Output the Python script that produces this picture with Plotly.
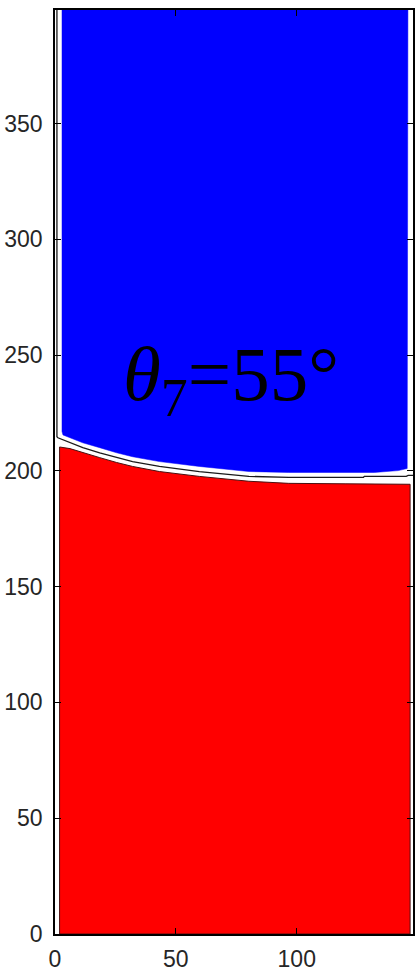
import plotly.graph_objects as go

# ---- data ----
# lower boundary of the blue phase (upper fluid)
blue_bottom_x = [2.9, 3.3, 11.5, 18.5, 25.5, 32.1, 43.2, 59.7, 80.2, 96.7, 115.0, 132.1, 142.0, 145.7]
blue_bottom_y = [217.0, 215.5, 212.1, 210.0, 207.8, 206.1, 204.0, 201.9, 199.7, 199.3, 199.3, 199.3, 200.1, 201.0]
blue_x_range = [2.9, 146.0]
blue_top = 399.0

# upper boundary of the red phase (lower fluid)
red_top_x = [1.9, 6.2, 11.5, 18.5, 25.5, 32.1, 43.2, 59.7, 80.2, 96.7, 120.0, 146.9]
red_top_y = [210.3, 209.6, 207.8, 205.7, 203.6, 201.9, 199.7, 197.6, 195.5, 194.6, 194.4, 194.2]
red_bottom = 0.0

# interface contour (dark line in the white band)
iface_x = [0.8, 0.8, 1.2, 6.2, 11.5, 18.5, 25.5, 32.1, 43.2, 59.7, 80.2, 96.7, 127.6, 128.0, 145.3, 146.1, 149.0]
iface_y = [399.0, 214.7, 214.3, 212.2, 210.0, 207.8, 205.7, 204.0, 201.9, 199.7, 197.6, 197.2, 197.2, 197.6, 197.6, 198.0, 198.0]

x_ticks = [0, 50, 100]
y_ticks = [0, 50, 100, 150, 200, 250, 300, 350]
x_range = [0, 148.1]
y_range = [0, 399]

label_text = "<i>θ</i><sub>7</sub>=55°"
label_pos = (73.0, 239.5)

# ---- build polygons from the boundary arrays ----
blue_poly_x = [blue_x_range[0]] + blue_bottom_x + [blue_x_range[1], blue_x_range[0], blue_x_range[0]]
blue_poly_y = [blue_top] + blue_bottom_y + [blue_top, blue_top, blue_top]

red_poly_x = [red_top_x[0]] + red_top_x + [red_top_x[-1], red_top_x[0]]
red_poly_y = [red_bottom] + red_top_y + [red_bottom, red_bottom]

fig = go.Figure()
fig.add_trace(go.Scatter(x=red_poly_x, y=red_poly_y, fill="toself", fillcolor="#ff0000",
                         mode="lines", line=dict(color="#4a1010", width=1),
                         hoverinfo="skip", showlegend=False))
fig.add_trace(go.Scatter(x=blue_poly_x, y=blue_poly_y, fill="toself", fillcolor="#0000ff",
                         mode="lines", line=dict(color="#0000ff", width=0.5),
                         hoverinfo="skip", showlegend=False))
fig.add_trace(go.Scatter(x=iface_x, y=iface_y, mode="lines",
                         line=dict(color="#1a1a1a", width=1.3),
                         hoverinfo="skip", showlegend=False))

fig.add_annotation(x=label_pos[0], y=label_pos[1], xref="x", yref="y",
                   text=label_text, showarrow=False,
                   font=dict(family="Liberation Serif", size=77, color="black"),
                   xanchor="center", yanchor="middle")

axis_common = dict(showgrid=False, zeroline=False, showline=True, linecolor="black",
                   linewidth=1.5, mirror="ticks", ticks="inside", ticklen=6,
                   tickcolor="black", tickwidth=1,
                   tickfont=dict(family="Liberation Sans", size=23, color="#262626"))

fig.update_xaxes(range=x_range, tickvals=x_ticks, ticklabelstandoff=4, **axis_common)
fig.update_yaxes(range=y_range, tickvals=y_ticks, ticklabelstandoff=6, **axis_common)

fig.update_layout(width=418, height=975,
                  margin=dict(l=55, r=3, t=10, b=30),
                  paper_bgcolor="white", plot_bgcolor="white")

fig.write_html("out.html")
